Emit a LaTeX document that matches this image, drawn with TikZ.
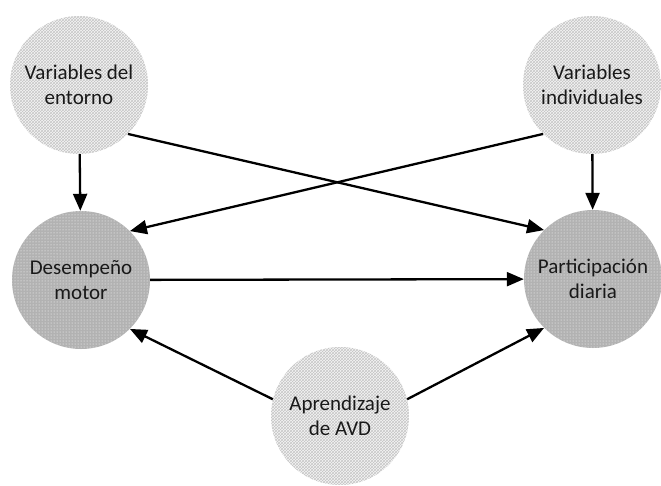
\documentclass[tikz,border=0pt]{standalone}
\usepackage{fontspec}
\setmainfont{Carlito}
\usepackage{tikz}
\usetikzlibrary{arrows.meta, positioning, patterns}

\tikzset{
  factor/.style={circle, minimum size=138pt, inner sep=0pt, align=center,
    font=\fontsize{21}{25}\selectfont, text=black!90,
    preaction={fill=gray!8}, pattern=crosshatch, pattern color=gray!45},
  outcome/.style={circle, minimum size=138pt, inner sep=0pt, align=center,
    font=\fontsize{21}{25}\selectfont, text=black!90,
    preaction={fill=gray!60}, pattern=dots, pattern color=white},
  link/.style={line width=2.3pt, -{Triangle[length=17pt,width=14pt]}}
}

\begin{document}
\begin{tikzpicture}[x=1pt, y=-1pt]
  \useasboundingbox (0,0) rectangle (661,485);

  % nodes
  \node[factor] (entorno) at (79,85) {Variables del\\entorno};
  \node[factor] (indiv) at (592,85) {Variables\\individuales};
  \node[outcome] (motor) at (81,280) {Desempeño\\motor};
  \node[outcome] (partic) at (593,279) {Participación\\diaria};
  \node[factor] (avd) at (340,416) {Aprendizaje\\de AVD};

  % arrows
  \draw[link] (entorno) -- (motor);
  \draw[link] (indiv) -- (partic);
  \draw[link] (entorno.-45) -- (partic.135);
  \draw[link] (indiv.225) -- (motor.45);
  \draw[link] (motor) -- (partic);
  \draw[link] (avd.166) -- (motor.-45);
  \draw[link] (avd.14) -- (partic.225);
\end{tikzpicture}
\end{document}
